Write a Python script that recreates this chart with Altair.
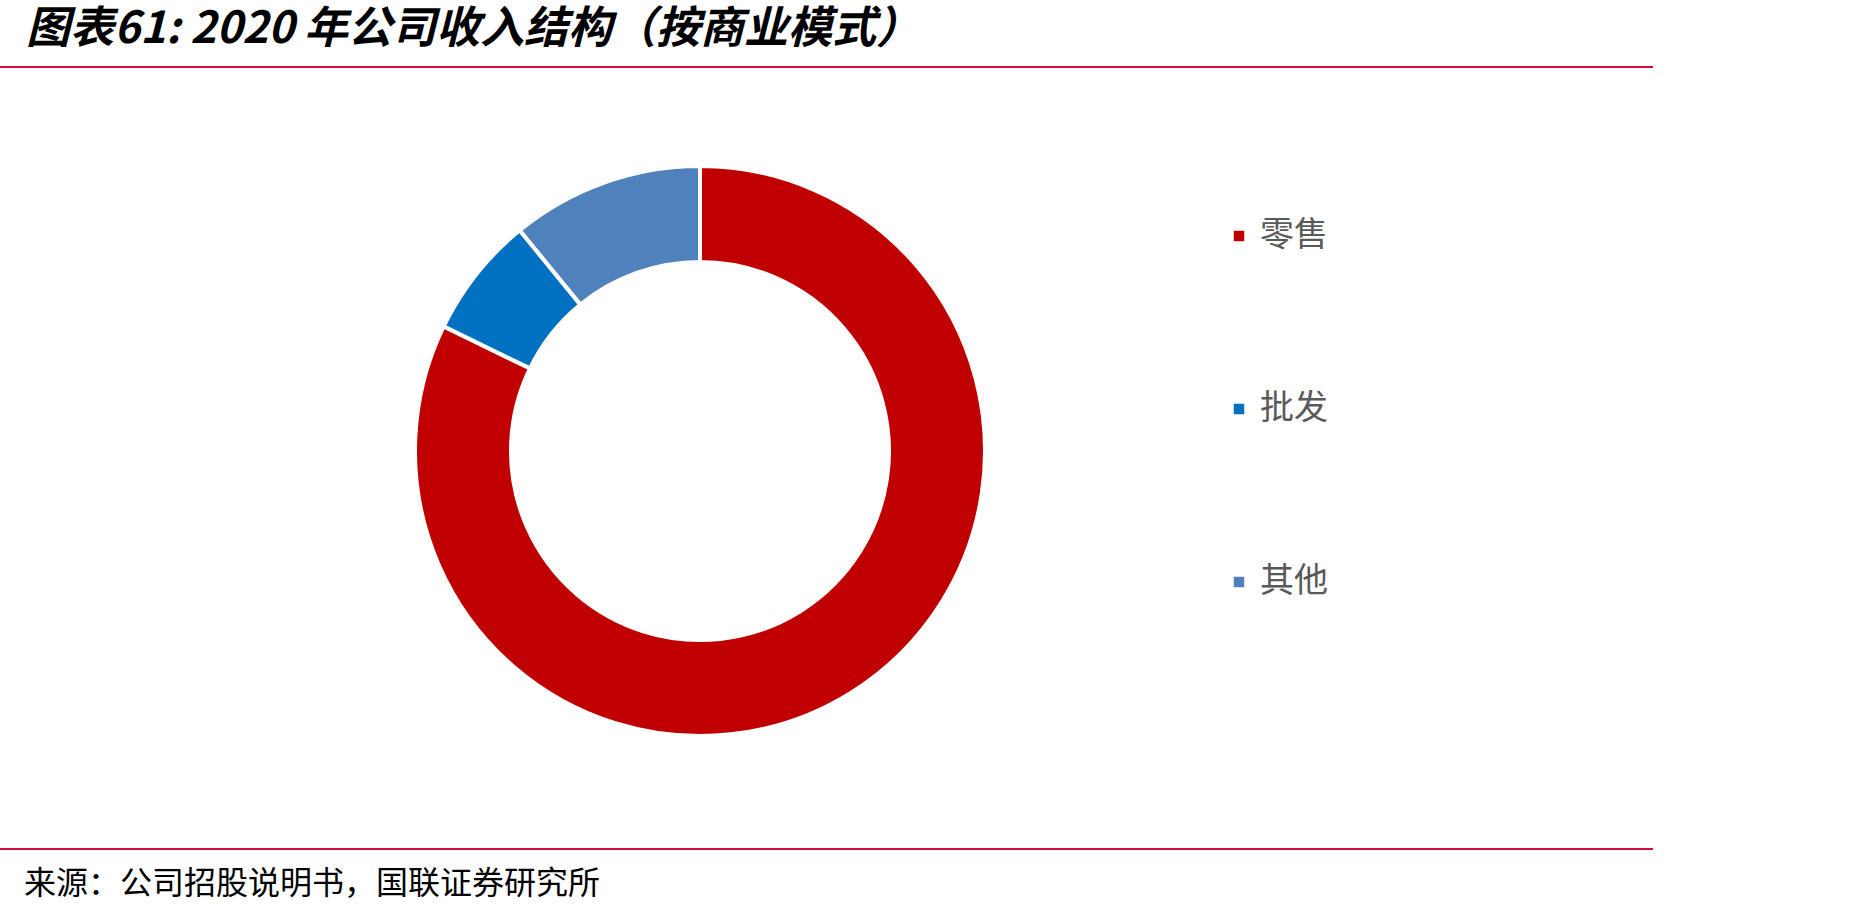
import altair as alt
import pandas as pd

categories = ["零售", "批发", "其他"]
shares = [82.2, 6.9, 10.9]
colors = ["#C00000", "#0070C0", "#4F81BD"]
order_idx = [0, 1, 2]

title_text = "图表61: 2020 年公司收入结构（按商业模式）"
source_text = "来源：公司招股说明书，国联证券研究所"

df = pd.DataFrame({"类别": categories, "占比": shares, "idx": order_idx})

W, H = 1859, 915

donut = alt.Chart(df).mark_arc(
    x=700, y=451, outerRadius=285, innerRadius=189,
    stroke="white", strokeWidth=4
).encode(
    theta=alt.Theta("占比:Q", stack=True),
    order=alt.Order("idx:Q"),
    color=alt.Color(
        "类别:N",
        scale=alt.Scale(domain=categories, range=colors),
        legend=alt.Legend(
            title=None, orient="none", legendX=1222, legendY=219,
            symbolType="square", symbolSize=110, symbolStrokeWidth=0,
            labelFontSize=34, labelColor="#595959",
            labelFont="Noto Sans CJK SC", rowPadding=139, labelOffset=4,
        ),
    ),
)

anchor = pd.DataFrame({"k": [0]})

title = alt.Chart(anchor).mark_text(
    text=title_text, align="left", baseline="top",
    font="Noto Sans CJK SC", fontSize=44, fontWeight="bold", fontStyle="italic",
    color="#000000",
).encode(x=alt.value(26), y=alt.value(8))

footer = alt.Chart(anchor).mark_text(
    text=source_text, align="left", baseline="middle",
    font="Noto Sans CJK SC", fontSize=32, color="#000000",
).encode(x=alt.value(24), y=alt.value(884))

top_rule = alt.Chart(anchor).mark_rule(color="#D0103A", strokeWidth=2).encode(
    x=alt.value(0), x2=alt.value(1653), y=alt.value(67)
)
bottom_rule = alt.Chart(anchor).mark_rule(color="#D0103A", strokeWidth=2).encode(
    x=alt.value(0), x2=alt.value(1653), y=alt.value(849)
)

chart = alt.layer(donut, title, footer, top_rule, bottom_rule).properties(
    width=W, height=H, padding=0, autosize=alt.AutoSizeParams(type="none"),
    background="white",
).configure_view(stroke=None)

chart.save("out.html", embed_options={"renderer": "svg", "actions": False})
